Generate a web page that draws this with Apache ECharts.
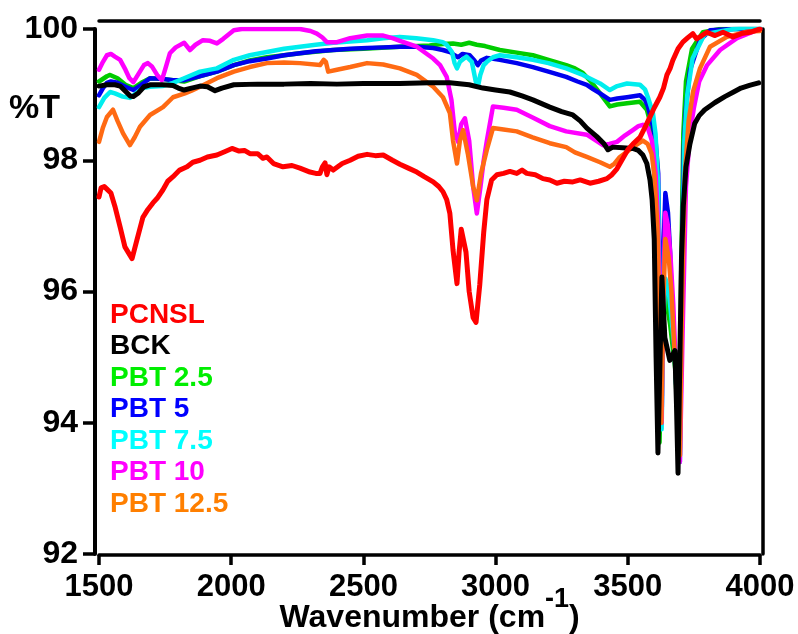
<!DOCTYPE html>
<html>
<head>
<meta charset="utf-8">
<script src="https://cdn.jsdelivr.net/npm/echarts@6/dist/echarts.min.js"></script>
<style>
html,body{margin:0;padding:0;background:#fff;}
#chart{width:798px;height:634px;}
</style>
</head>
<body>
<div id="chart"></div>
<script>
const seriesNames = ['PCNSL','BCK','PBT 2.5','PBT 5','PBT 7.5','PBT 10','PBT 12.5'];
const lineColors = ['#ff0000','#000000','#00cc00','#0000ee','#00eeee','#ff00ff','#ff6a13'];
const textColors = ['#ff0000','#000000','#00ee00','#0000ff','#00ffff','#ff00ff','#ff7f00'];
const xTicks = [1500,2000,2500,3000,3500,4000];
const yTicks = [92,94,96,98,100];

const pcnsl = [[1500,97.44],[1508,97.58],[1520,97.6],[1530,97.56],[1545,97.5],[1560,97.3],[1580,96.98],[1598,96.68],[1610,96.6],[1625,96.5],[1643,96.78],[1666,97.13],[1685,97.25],[1704,97.35],[1720,97.42],[1742,97.55],[1760,97.68],[1780,97.75],[1805,97.85],[1833,97.9],[1855,97.97],[1882,98.0],[1910,98.05],[1946,98.08],[1975,98.13],[2003,98.18],[2030,98.14],[2050,98.15],[2071,98.1],[2100,98.1],[2120,98.03],[2135,98.05],[2160,97.95],[2196,97.9],[2230,97.92],[2260,97.88],[2298,97.82],[2320,97.8],[2336,97.8],[2345,97.9],[2355,97.96],[2362,97.78],[2370,97.9],[2386,97.85],[2420,97.95],[2450,98.0],[2480,98.06],[2514,98.09],[2545,98.07],[2575,98.08],[2610,98.0],[2638,97.94],[2670,97.88],[2702,97.82],[2730,97.75],[2764,97.67],[2785,97.6],[2801,97.52],[2815,97.4],[2827,97.19],[2839,96.63],[2854,96.12],[2862,96.6],[2870,96.95],[2877,96.97],[2888,96.6],[2900,96.0],[2915,95.6],[2926,95.53],[2940,96.1],[2955,96.9],[2967,97.4],[2985,97.7],[3005,97.78],[3030,97.8],[3054,97.83],[3080,97.8],[3100,97.85],[3118,97.8],[3150,97.78],[3179,97.72],[3205,97.7],[3232,97.65],[3260,97.68],[3292,97.67],[3320,97.7],[3357,97.65],[3390,97.68],[3421,97.72],[3440,97.78],[3459,97.87],[3480,98.02],[3500,98.16],[3520,98.25],[3546,98.35],[3565,98.5],[3584,98.66],[3600,98.8],[3621,98.96],[3635,99.1],[3648,99.3],[3660,99.4],[3670,99.52],[3690,99.7],[3708,99.8],[3725,99.86],[3746,99.93],[3760,99.85],[3773,99.88],[3799,99.95],[3830,99.9],[3860,99.95],[3898,99.88],[3930,99.93],[3962,99.95],[4000,100.0]];

const bck = [[1500,99.13],[1530,99.15],[1560,99.15],[1580,99.13],[1600,99.05],[1618,98.98],[1630,98.97],[1650,99.03],[1670,99.12],[1693,99.15],[1740,99.15],[1780,99.14],[1800,99.1],[1822,99.07],[1850,99.1],[1882,99.13],[1910,99.12],[1939,99.06],[1965,99.1],[2010,99.15],[2100,99.16],[2200,99.16],[2300,99.17],[2400,99.16],[2500,99.17],[2638,99.17],[2750,99.18],[2827,99.18],[2900,99.15],[2952,99.1],[3000,99.07],[3054,99.04],[3100,98.98],[3141,98.92],[3205,98.81],[3250,98.74],[3292,98.69],[3320,98.6],[3345,98.49],[3383,98.36],[3410,98.25],[3425,98.16],[3443,98.2],[3480,98.19],[3519,98.18],[3540,98.15],[3557,98.08],[3572,97.95],[3584,97.7],[3592,97.4],[3600,96.8],[3607,95.0],[3614,93.54],[3621,94.8],[3629,96.22],[3640,95.3],[3659,94.95],[3678,95.1],[3684,94.3],[3690,93.23],[3697,95.0],[3703,96.5],[3710,97.3],[3720,97.9],[3735,98.25],[3753,98.56],[3770,98.68],[3791,98.77],[3830,98.88],[3867,98.97],[3900,99.04],[3928,99.1],[3960,99.14],[3995,99.18]];

const pbt25 = [[1500,99.2],[1530,99.28],[1542,99.3],[1570,99.25],[1600,99.15],[1630,99.1],[1660,99.18],[1693,99.25],[1740,99.24],[1780,99.22],[1822,99.2],[1880,99.28],[1946,99.35],[2010,99.45],[2070,99.52],[2135,99.57],[2200,99.6],[2260,99.63],[2386,99.68],[2500,99.7],[2638,99.73],[2750,99.75],[2800,99.77],[2839,99.78],[2870,99.76],[2900,99.79],[2929,99.76],[2960,99.74],[3016,99.68],[3080,99.64],[3141,99.6],[3200,99.53],[3267,99.45],[3300,99.4],[3330,99.33],[3360,99.2],[3395,99.02],[3432,98.82],[3460,98.85],[3497,98.87],[3546,98.89],[3572,98.77],[3590,98.5],[3600,97.8],[3610,95.5],[3620,93.7],[3630,95.5],[3640,96.0],[3660,95.5],[3680,94.8],[3695,93.4],[3702,96.3],[3710,98.4],[3720,99.2],[3743,99.7],[3784,99.95],[3850,100.0],[4000,100.0]];

const pbt5 = [[1500,98.99],[1515,99.1],[1530,99.18],[1545,99.2],[1570,99.18],[1600,99.12],[1630,99.07],[1660,99.15],[1693,99.25],[1740,99.24],[1780,99.22],[1822,99.22],[1880,99.28],[1946,99.35],[2010,99.45],[2070,99.51],[2135,99.55],[2200,99.6],[2260,99.63],[2320,99.66],[2386,99.68],[2450,99.7],[2514,99.71],[2575,99.72],[2638,99.73],[2700,99.73],[2764,99.71],[2800,99.68],[2827,99.65],[2845,99.6],[2858,99.57],[2875,99.62],[2902,99.6],[2920,99.52],[2933,99.45],[2945,99.52],[2967,99.56],[3016,99.53],[3080,99.48],[3141,99.42],[3200,99.35],[3267,99.27],[3310,99.2],[3345,99.15],[3370,99.08],[3395,99.02],[3432,98.92],[3460,98.94],[3497,98.96],[3546,98.99],[3565,98.92],[3576,98.82],[3595,98.52],[3605,98.3],[3615,97.8],[3622,96.0],[3628,94.0],[3634,96.5],[3642,97.5],[3652,97.2],[3660,96.6],[3668,95.6],[3678,95.0],[3690,94.0],[3697,93.5],[3703,96.0],[3712,98.2],[3720,98.8],[3735,99.37],[3773,99.83],[3811,99.98],[3900,100.0],[4000,100.0]];

const pbt75 = [[1500,98.81],[1520,98.95],[1542,99.04],[1560,99.02],[1590,98.97],[1617,98.95],[1640,99.02],[1666,99.1],[1693,99.12],[1740,99.13],[1780,99.18],[1822,99.25],[1882,99.35],[1946,99.4],[2010,99.53],[2070,99.6],[2135,99.65],[2200,99.7],[2260,99.73],[2320,99.76],[2386,99.79],[2450,99.81],[2514,99.83],[2575,99.86],[2638,99.88],[2700,99.86],[2764,99.83],[2800,99.8],[2815,99.76],[2835,99.65],[2845,99.48],[2854,99.4],[2865,99.5],[2890,99.58],[2910,99.5],[2925,99.2],[2933,99.12],[2942,99.3],[2955,99.45],[2967,99.5],[2990,99.57],[3016,99.6],[3080,99.57],[3141,99.53],[3200,99.48],[3267,99.4],[3330,99.3],[3370,99.22],[3395,99.17],[3432,99.07],[3460,99.13],[3497,99.17],[3546,99.15],[3565,99.08],[3576,98.96],[3595,98.72],[3605,98.4],[3615,97.6],[3622,95.5],[3628,93.9],[3634,95.5],[3642,96.2],[3655,96.0],[3665,95.6],[3675,95.2],[3688,94.2],[3697,93.4],[3704,96.0],[3714,98.3],[3725,99.0],[3745,99.55],[3790,99.92],[3900,100.0],[4000,100.05]];

const pbt10 = [[1500,99.38],[1515,99.5],[1530,99.6],[1545,99.62],[1560,99.58],[1580,99.53],[1600,99.38],[1615,99.25],[1630,99.19],[1650,99.32],[1670,99.45],[1685,99.48],[1700,99.43],[1720,99.3],[1738,99.22],[1755,99.45],[1768,99.63],[1790,99.72],[1822,99.79],[1844,99.68],[1865,99.76],[1893,99.83],[1920,99.82],[1946,99.78],[1970,99.85],[2010,99.98],[2040,100.0],[2100,100.0],[2200,100.0],[2260,100.0],[2300,99.97],[2324,99.93],[2345,99.87],[2362,99.8],[2400,99.8],[2450,99.86],[2514,99.9],[2575,99.9],[2610,99.86],[2638,99.82],[2702,99.73],[2764,99.55],[2790,99.45],[2815,99.27],[2833,98.92],[2846,98.42],[2858,98.28],[2870,98.55],[2884,98.64],[2900,98.3],[2915,97.6],[2929,97.19],[2943,97.6],[2955,98.0],[2967,98.3],[2990,98.82],[3030,98.8],[3080,98.77],[3140,98.65],[3205,98.52],[3267,98.44],[3345,98.39],[3380,98.3],[3406,98.23],[3430,98.25],[3459,98.28],[3490,98.38],[3519,98.46],[3540,98.52],[3557,98.54],[3575,98.5],[3591,98.3],[3605,97.8],[3615,97.0],[3622,95.2],[3628,94.0],[3634,96.0],[3642,97.2],[3652,97.0],[3662,96.5],[3672,95.8],[3685,94.5],[3697,93.4],[3708,95.5],[3720,97.6],[3735,98.4],[3750,98.8],[3770,99.2],[3800,99.45],[3849,99.68],[3913,99.86],[4000,100.0]];

const pbt125 = [[1500,98.28],[1515,98.5],[1530,98.66],[1553,98.77],[1570,98.6],[1591,98.41],[1617,98.23],[1635,98.35],[1655,98.51],[1693,98.69],[1742,98.81],[1780,98.96],[1825,99.02],[1850,99.06],[1882,99.12],[1946,99.25],[2010,99.35],[2070,99.42],[2135,99.48],[2200,99.49],[2260,99.48],[2336,99.45],[2350,99.53],[2358,99.5],[2367,99.35],[2400,99.38],[2450,99.42],[2514,99.48],[2575,99.46],[2638,99.4],[2702,99.3],[2764,99.12],[2801,98.96],[2827,98.72],[2839,98.3],[2854,97.95],[2865,98.3],[2877,98.46],[2895,98.1],[2915,97.6],[2929,97.39],[2945,97.8],[2967,98.16],[2990,98.49],[3030,98.47],[3080,98.44],[3140,98.35],[3205,98.26],[3267,98.2],[3300,98.12],[3345,98.05],[3395,97.97],[3432,97.9],[3450,97.95],[3470,98.05],[3497,98.13],[3519,98.2],[3557,98.3],[3575,98.25],[3590,98.1],[3600,97.8],[3612,97.0],[3620,95.5],[3627,94.0],[3634,95.8],[3642,96.8],[3655,96.5],[3665,96.0],[3675,95.2],[3685,94.5],[3697,93.5],[3706,96.0],[3716,97.8],[3730,98.6],[3747,99.05],[3773,99.4],[3811,99.73],[3875,99.88],[3951,99.96],[4000,99.97]];

const seriesData = [pcnsl, bck, pbt25, pbt5, pbt75, pbt10, pbt125];
const lineWidths = [5,5,4.5,4.5,4.5,4.5,4.5];
const drawOrder = [2,3,4,5,6,1,0];

const FONT = '"Liberation Sans", Arial, sans-serif';

const chart = echarts.init(document.getElementById('chart'), null, {renderer:'canvas'});

const series = drawOrder.map(i => ({
  name: seriesNames[i],
  type: 'line',
  data: seriesData[i],
  showSymbol: false,
  symbol: 'none',
  smooth: false,
  color: lineColors[i],
  lineStyle: {color: lineColors[i], width: lineWidths[i], cap: 'round', join: 'round'},
  emphasis: {disabled: true},
  animation: false,
  z: 2
}));

const axisLineStyle = {color: '#000', width: 3.5};

chart.setOption({
  animation: false,
  backgroundColor: '#ffffff',
  title: {
    text: '%T', left: 9, top: 92, padding: 0,
    textStyle: {fontFamily: FONT, fontSize: 34, fontWeight: 'bold', color: '#000', lineHeight: 34}
  },
  legend: {
    orient: 'vertical', left: 105, top: 301, padding: 0,
    itemWidth: 0, itemHeight: 0, itemGap: 3.5,
    icon: 'rect', selectedMode: false,
    textStyle: {fontFamily: FONT, fontSize: 28, fontWeight: 'bold', lineHeight: 24},
    data: seriesNames.map((n, i) => ({name: n, textStyle: {color: textColors[i]}}))
  },
  grid: {left: 99, right: 38, top: 29, bottom: 80, containLabel: false, outerBoundsMode: 'none'},
  xAxis: [{
    type: 'value', min: xTicks[0], max: xTicks[xTicks.length-1], interval: 500,
    position: 'bottom', offset: 1,
    axisLine: {show: true, lineStyle: axisLineStyle},
    axisTick: {show: true, length: 10, lineStyle: {color:'#000', width: 3.5}},
    axisLabel: {margin: 17, fontFamily: FONT, fontSize: 31, fontWeight: 'bold', color: '#000', formatter: v => String(v)},
    splitLine: {show: false},
    name: '{h| }{a|Wavenumber (cm}{s|-1}{a|)}',
    nameLocation: 'middle', nameGap: 31, nameMoveOverlap: false,
    nameTextStyle: {
      rich: {
        h: {fontSize: 1, lineHeight: 48},
        a: {fontFamily: FONT, fontSize: 32, fontWeight: 'bold', color: '#000', lineHeight: 32, verticalAlign: 'bottom'},
        s: {fontFamily: FONT, fontSize: 27, fontWeight: 'bold', color: '#000', lineHeight: 26, verticalAlign: 'top'}
      }
    }
  }, {
    type: 'value', min: xTicks[0], max: xTicks[xTicks.length-1],
    position: 'top', offset: 8,
    axisLine: {show: true, lineStyle: axisLineStyle},
    axisTick: {show: false}, axisLabel: {show: false}, splitLine: {show: false}
  }],
  yAxis: [{
    type: 'value', min: yTicks[0], max: yTicks[yTicks.length-1], interval: 2,
    position: 'left', offset: 4,
    axisLine: {show: true, lineStyle: {color: '#000', width: 4}},
    axisTick: {show: true, length: 12, lineStyle: {color:'#000', width: 3.5}},
    axisLabel: {margin: 17, fontFamily: FONT, fontSize: 32, fontWeight: 'bold', color: '#000'},
    splitLine: {show: false}
  }, {
    type: 'value', min: yTicks[0], max: yTicks[yTicks.length-1],
    position: 'right', offset: 3,
    axisLine: {show: true, lineStyle: axisLineStyle},
    axisTick: {show: false}, axisLabel: {show: false}, splitLine: {show: false}
  }],
  series: series
});
</script>
</body>
</html>
